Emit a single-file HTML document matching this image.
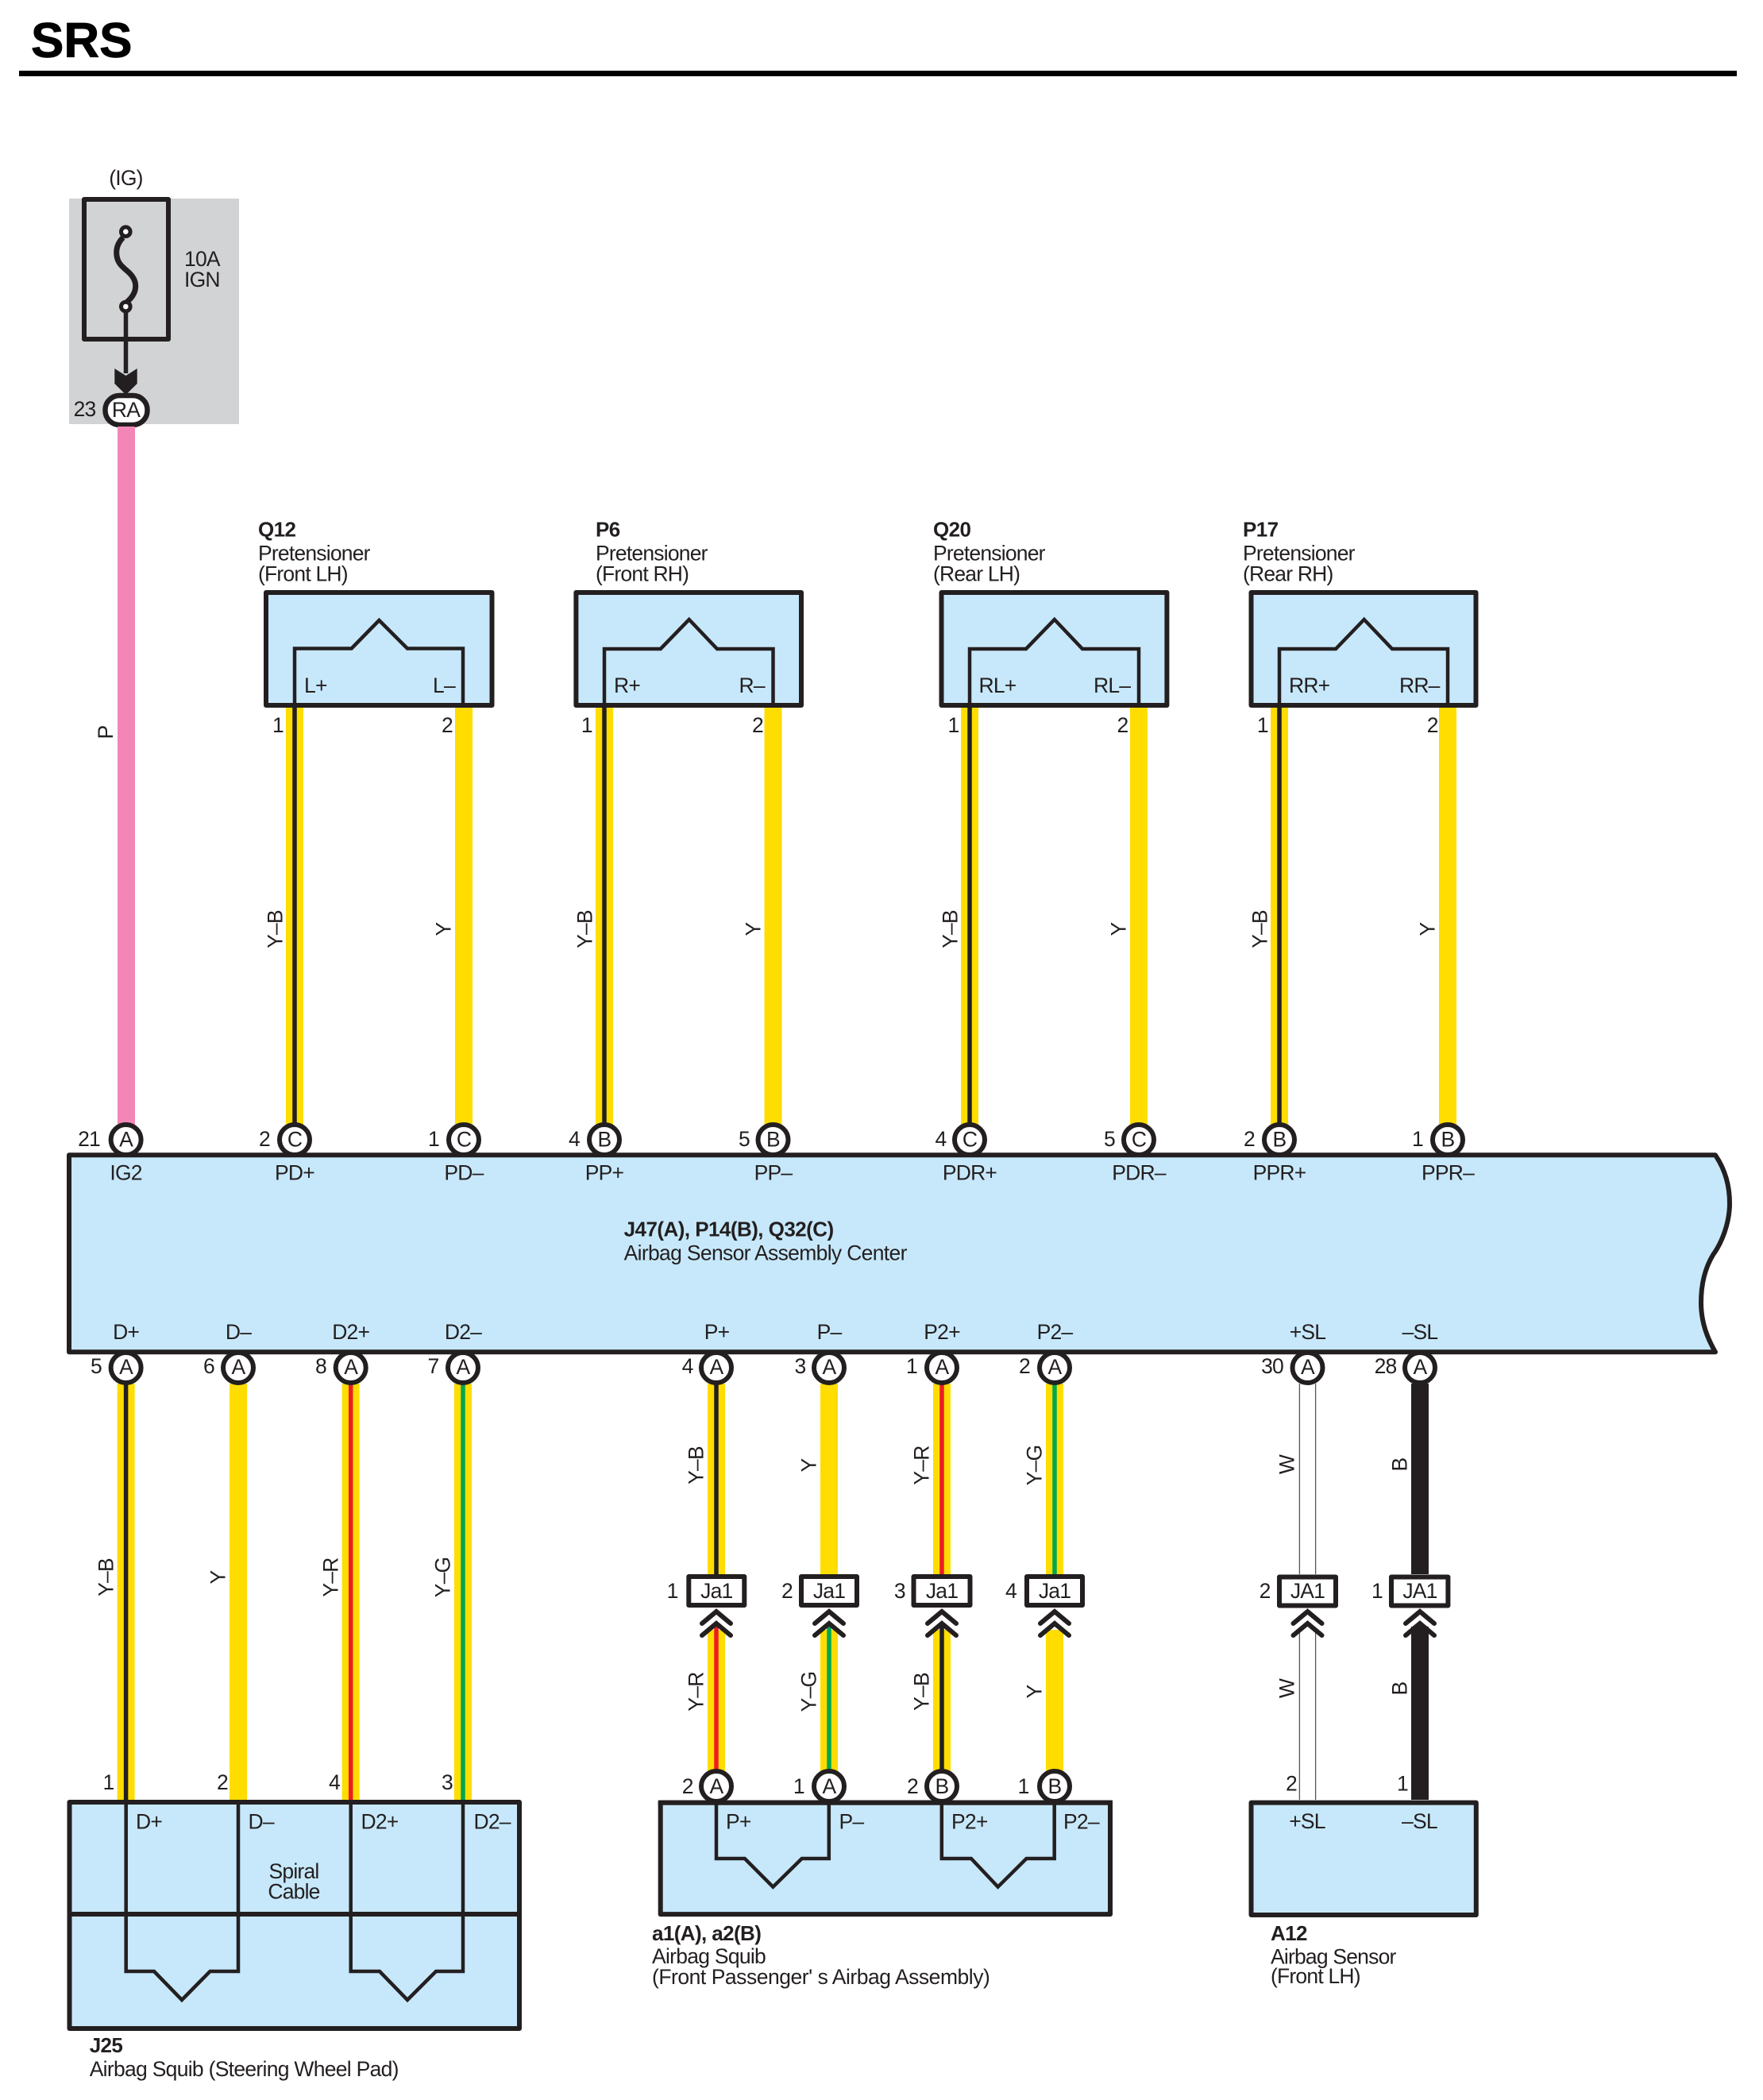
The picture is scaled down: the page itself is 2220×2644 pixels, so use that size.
<!DOCTYPE html>
<html><head><meta charset="utf-8"><title>SRS</title>
<style>
html,body{margin:0;padding:0;background:#fff}
svg{display:block}
text{font-family:"Liberation Sans",sans-serif;font-size:26.5px;letter-spacing:-.8px;fill:#231f20}
.b{font-weight:700;font-size:26px;letter-spacing:-.6px}
.e{text-anchor:end}
.m{text-anchor:middle}
.box{fill:#c7e8fa;stroke:#231f20;stroke-width:6;stroke-linejoin:round}
.in{fill:none;stroke:#231f20;stroke-width:4.5;stroke-linejoin:miter}
.c{fill:#fff;stroke:#231f20;stroke-width:6}
.y{stroke:#ffdd00;stroke-width:22;fill:none}
.k{stroke:#231f20;stroke-width:5.5;fill:none}
.bk{stroke:#231f20;stroke-width:22;fill:none}
.r{stroke:#ed1c24;stroke-width:5.5;fill:none}
.g{stroke:#00a651;stroke-width:5.5;fill:none}
.w{stroke:#555;stroke-width:1.3;fill:none}
.chev{fill:none;stroke:#231f20;stroke-width:6;stroke-linecap:round;stroke-linejoin:miter}
.conn{fill:#fff;stroke:#231f20;stroke-width:6;stroke-linejoin:round}
</style></head>
<body>
<svg width="2220" height="2644" viewBox="0 0 2220 2644" xmlns="http://www.w3.org/2000/svg">
<defs>
<g id="ch"><path class="chev" d="M-18 17L0 2L18 17"/><path class="chev" d="M-18 32L0 17L18 32"/></g>
</defs>
<rect width="2220" height="2644" fill="#fff"/>

<text x="39" y="72" class="b" style="font-size:62px;letter-spacing:0;fill:#000;stroke:#000;stroke-width:.8">SRS</text>
<rect x="24" y="89" width="2163" height="7" fill="#000"/>

<!-- fuse -->
<rect x="87" y="250" width="214" height="284" fill="#d1d3d4"/>
<text x="158.5" y="233" class="m">(IG)</text>
<rect x="106" y="251" width="106" height="176" fill="none" stroke="#231f20" stroke-width="6" stroke-linejoin="round"/>
<path d="M155 299C150 304 146.7 310 146.7 318C146.7 330 153 335 160 341C166 346 170.7 352 170.7 360C170.7 369 166 375 160 380" fill="none" stroke="#231f20" stroke-width="7"/>
<circle cx="158.3" cy="291.7" r="5.8" fill="#fff" stroke="#231f20" stroke-width="5"/>
<circle cx="158.3" cy="386" r="5.8" fill="#fff" stroke="#231f20" stroke-width="5"/>
<path d="M158.5 392V470" stroke="#231f20" stroke-width="5.5" fill="none"/>
<path d="M144.3 464L158.5 473L172.7 464V483L158.5 497L144.3 483Z" fill="#231f20"/>
<text x="232" y="335">10A</text>
<text x="232" y="361">IGN</text>
<text x="120.5" y="524" class="e">23</text>
<rect x="132.5" y="498" width="53" height="37" rx="18" ry="18" class="c" style="stroke-width:6.5"/>
<text x="158.5" y="525" class="m">RA</text>

<!-- wires upper -->
<path class="y" d="M159 537V1416" style="stroke:#f287b7"/>
<path class="y" d="M371 889V1416M584 889V1416M761 889V1416M973.5 889V1416M1221 889V1416M1434 889V1416M1611 889V1416M1823 889V1416"/>
<path class="k" d="M371 889V1416M761 889V1416M1221 889V1416M1611 889V1416"/>

<!-- wires lower -->
<path class="y" d="M158.6 1742V2266M300 1742V2266M441.7 1742V2266M583 1742V2266"/>
<path class="k" d="M158.6 1742V2266"/>
<path class="r" d="M441.7 1742V2266"/>
<path class="g" d="M583 1742V2266"/>

<path class="y" d="M902 1742V1982M1044 1742V1982M1186 1742V1982M1328 1742V1982M902 2052V2232M1044 2052V2232M1186 2052V2232M1328 2052V2232"/>
<path class="k" d="M902 1742V1982M1186 2047V2232"/>
<path class="r" d="M1186 1742V1982M902 2047V2232"/>
<path class="g" d="M1328 1742V1982M1044 2047V2232"/>

<path class="w" d="M1636.4 1742V1982M1656.6 1742V1982M1636.4 2052V2266M1656.6 2052V2266"/>
<path class="bk" d="M1788 1742V1982M1788 2048V2266"/>

<!-- pretensioners -->
<rect x="335" y="746" width="284.5" height="142" class="box"/>
<path class="in" d="M371 888V816.5H442.6L477.4 781L513 816.5H583V888"/>
<rect x="725.4" y="746" width="283.6" height="142" class="box"/>
<path class="in" d="M761 888V817H831.8L867.7 780L903 817H973.5V888"/>
<rect x="1185.5" y="746" width="283.9" height="142" class="box"/>
<path class="in" d="M1221 888V817H1292L1327.8 780L1363 817H1434V888"/>
<rect x="1575.5" y="746" width="283" height="142" class="box"/>
<path class="in" d="M1611 888V817H1682L1717.7 780L1753 817H1823V888"/>

<text x="325" y="675.5" class="b">Q12</text><text x="325" y="705.5">Pretensioner</text><text x="325" y="731.5">(Front LH)</text>
<text x="750" y="675.5" class="b">P6</text><text x="750" y="705.5">Pretensioner</text><text x="750" y="731.5">(Front RH)</text>
<text x="1175" y="675.5" class="b">Q20</text><text x="1175" y="705.5">Pretensioner</text><text x="1175" y="731.5">(Rear LH)</text>
<text x="1565" y="675.5" class="b">P17</text><text x="1565" y="705.5">Pretensioner</text><text x="1565" y="731.5">(Rear RH)</text>

<text x="383" y="872">L+</text><text x="545" y="872">L–</text>
<text x="773" y="872">R+</text><text x="930.5" y="872">R–</text>
<text x="1232.5" y="872">RL+</text><text x="1377" y="872">RL–</text>
<text x="1623" y="872">RR+</text><text x="1762" y="872">RR–</text>

<text x="357" y="922" class="e">1</text><text x="570" y="922" class="e">2</text>
<text x="745.8" y="922" class="e">1</text><text x="961" y="922" class="e">2</text>
<text x="1207.5" y="922" class="e">1</text><text x="1420.4" y="922" class="e">2</text>
<text x="1596.8" y="922" class="e">1</text><text x="1810.7" y="922" class="e">2</text>

<!-- rotated wire labels upper -->
<text class="m" transform="translate(142 922) rotate(-90)">P</text>
<text class="m" transform="translate(355.5 1170) rotate(-90)">Y–B</text>
<text class="m" transform="translate(567.5 1170) rotate(-90)">Y</text>
<text class="m" transform="translate(745.5 1170) rotate(-90)">Y–B</text>
<text class="m" transform="translate(957.5 1170) rotate(-90)">Y</text>
<text class="m" transform="translate(1205.5 1170) rotate(-90)">Y–B</text>
<text class="m" transform="translate(1417.5 1170) rotate(-90)">Y</text>
<text class="m" transform="translate(1595.5 1170) rotate(-90)">Y–B</text>
<text class="m" transform="translate(1806.5 1170) rotate(-90)">Y</text>

<!-- rotated wire labels lower -->
<text class="m" transform="translate(142.5 1986) rotate(-90)">Y–B</text>
<text class="m" transform="translate(283.5 1986) rotate(-90)">Y</text>
<text class="m" transform="translate(425.5 1986) rotate(-90)">Y–R</text>
<text class="m" transform="translate(566.5 1986) rotate(-90)">Y–G</text>
<text class="m" transform="translate(885.5 1845) rotate(-90)">Y–B</text>
<text class="m" transform="translate(1027.5 1845) rotate(-90)">Y</text>
<text class="m" transform="translate(1169.5 1845) rotate(-90)">Y–R</text>
<text class="m" transform="translate(1311.5 1845) rotate(-90)">Y–G</text>
<text class="m" transform="translate(885.5 2130) rotate(-90)">Y–R</text>
<text class="m" transform="translate(1027.5 2130) rotate(-90)">Y–G</text>
<text class="m" transform="translate(1169.5 2130) rotate(-90)">Y–B</text>
<text class="m" transform="translate(1311.5 2130) rotate(-90)">Y</text>
<text class="m" transform="translate(1629.5 1844) rotate(-90)">W</text>
<text class="m" transform="translate(1771.5 1844) rotate(-90)">B</text>
<text class="m" transform="translate(1629.5 2126) rotate(-90)">W</text>
<text class="m" transform="translate(1771.5 2126) rotate(-90)">B</text>

<!-- circles top -->
<circle class="c" cx="158.6" cy="1435" r="19"/><text x="158.6" y="1443.5" class="m">A</text><text x="126" y="1443" class="e">21</text>
<circle class="c" cx="371" cy="1435" r="19"/><text x="371" y="1443.5" class="m">C</text><text x="340" y="1443" class="e">2</text>
<circle class="c" cx="584" cy="1435" r="19"/><text x="584" y="1443.5" class="m">C</text><text x="553" y="1443" class="e">1</text>
<circle class="c" cx="761" cy="1435" r="19"/><text x="761" y="1443.5" class="m">B</text><text x="730" y="1443" class="e">4</text>
<circle class="c" cx="973.5" cy="1435" r="19"/><text x="973.5" y="1443.5" class="m">B</text><text x="944" y="1443" class="e">5</text>
<circle class="c" cx="1221" cy="1435" r="19"/><text x="1221" y="1443.5" class="m">C</text><text x="1191.5" y="1443" class="e">4</text>
<circle class="c" cx="1434" cy="1435" r="19"/><text x="1434" y="1443.5" class="m">C</text><text x="1404" y="1443" class="e">5</text>
<circle class="c" cx="1611" cy="1435" r="19"/><text x="1611" y="1443.5" class="m">B</text><text x="1580" y="1443" class="e">2</text>
<circle class="c" cx="1823" cy="1435" r="19"/><text x="1823" y="1443.5" class="m">B</text><text x="1792" y="1443" class="e">1</text>

<!-- circles bottom -->
<circle class="c" cx="158.6" cy="1722" r="19"/><text x="158.6" y="1730" class="m">A</text><text x="128" y="1729" class="e">5</text>
<circle class="c" cx="300" cy="1722" r="19"/><text x="300" y="1730" class="m">A</text><text x="270" y="1729" class="e">6</text>
<circle class="c" cx="441.7" cy="1722" r="19"/><text x="441.7" y="1730" class="m">A</text><text x="411" y="1729" class="e">8</text>
<circle class="c" cx="583" cy="1722" r="19"/><text x="583" y="1730" class="m">A</text><text x="552.4" y="1729" class="e">7</text>
<circle class="c" cx="902" cy="1722" r="19"/><text x="902" y="1730" class="m">A</text><text x="872.6" y="1729" class="e">4</text>
<circle class="c" cx="1044" cy="1722" r="19"/><text x="1044" y="1730" class="m">A</text><text x="1014.4" y="1729" class="e">3</text>
<circle class="c" cx="1186" cy="1722" r="19"/><text x="1186" y="1730" class="m">A</text><text x="1155" y="1729" class="e">1</text>
<circle class="c" cx="1328" cy="1722" r="19"/><text x="1328" y="1730" class="m">A</text><text x="1297" y="1729" class="e">2</text>
<circle class="c" cx="1646.5" cy="1722" r="19"/><text x="1646.5" y="1730" class="m">A</text><text x="1616" y="1729" class="e">30</text>
<circle class="c" cx="1788" cy="1722" r="19"/><text x="1788" y="1730" class="m">A</text><text x="1758.5" y="1729" class="e">28</text>

<!-- main box -->
<path class="box" d="M87 1454.3H2160C2172 1472 2178 1492 2178 1515C2178 1540 2168 1565 2157 1580C2148 1595 2142 1615 2142 1640C2142 1665 2150 1685 2160 1702.3H87Z"/>
<text x="158.6" y="1485.5" class="m">IG2</text>
<text x="371" y="1485.5" class="m">PD+</text>
<text x="584" y="1485.5" class="m">PD–</text>
<text x="761" y="1485.5" class="m">PP+</text>
<text x="973.5" y="1485.5" class="m">PP–</text>
<text x="1221" y="1485.5" class="m">PDR+</text>
<text x="1434" y="1485.5" class="m">PDR–</text>
<text x="1611" y="1485.5" class="m">PPR+</text>
<text x="1823" y="1485.5" class="m">PPR–</text>
<text x="785.6" y="1556.7" class="b" textLength="264" lengthAdjust="spacing">J47(A), P14(B), Q32(C)</text>
<text x="785.6" y="1586.7" textLength="356" lengthAdjust="spacing">Airbag Sensor Assembly Center</text>
<text x="158.6" y="1686" class="m">D+</text>
<text x="300" y="1686" class="m">D–</text>
<text x="441.7" y="1686" class="m">D2+</text>
<text x="583" y="1686" class="m">D2–</text>
<text x="902.5" y="1686" class="m">P+</text>
<text x="1044" y="1686" class="m">P–</text>
<text x="1186" y="1686" class="m">P2+</text>
<text x="1328" y="1686" class="m">P2–</text>
<text x="1646.5" y="1686" class="m">+SL</text>
<text x="1788" y="1686" class="m">–SL</text>

<!-- connectors -->
<rect class="conn" x="867.3" y="1985" width="70" height="36"/><text x="902.3" y="2012" class="m">Ja1</text><text x="853.6" y="2012" class="e">1</text>
<rect class="conn" x="1009" y="1985" width="70" height="36"/><text x="1044" y="2012" class="m">Ja1</text><text x="998" y="2012" class="e">2</text>
<rect class="conn" x="1150.5" y="1985" width="71" height="36"/><text x="1186" y="2012" class="m">Ja1</text><text x="1139.8" y="2012" class="e">3</text>
<rect class="conn" x="1293" y="1985" width="70" height="36"/><text x="1328" y="2012" class="m">Ja1</text><text x="1280" y="2012" class="e">4</text>
<rect class="conn" x="1611" y="1985.5" width="71" height="36"/><text x="1646.5" y="2012" class="m">JA1</text><text x="1599.6" y="2012" class="e">2</text>
<rect class="conn" x="1752" y="1985.5" width="71.4" height="36"/><text x="1788" y="2012" class="m">JA1</text><text x="1741" y="2012" class="e">1</text>
<use href="#ch" x="902" y="2027"/>
<use href="#ch" x="1044" y="2027"/>
<use href="#ch" x="1186" y="2027"/>
<use href="#ch" x="1328" y="2027"/>
<use href="#ch" x="1646.5" y="2027"/>
<use href="#ch" x="1788" y="2027"/>

<!-- J25 -->
<text x="143.5" y="2253" class="e">1</text>
<text x="287" y="2253" class="e">2</text>
<text x="428" y="2253" class="e">4</text>
<text x="570" y="2253" class="e">3</text>
<rect class="box" x="87.5" y="2269" width="566.5" height="285"/>
<path d="M87 2410H654" stroke="#231f20" stroke-width="6" fill="none"/>
<path class="in" d="M158.7 2269V2482H194L229 2518L264.5 2482H300V2269"/>
<path class="in" d="M441.7 2269V2482H478L513 2518L549 2482H583V2269"/>
<text x="171" y="2302.7">D+</text>
<text x="312.5" y="2302.7">D–</text>
<text x="454.5" y="2302.7">D2+</text>
<text x="596.5" y="2302.7">D2–</text>
<text x="370" y="2365" class="m">Spiral</text>
<text x="370" y="2390.7" class="m">Cable</text>
<text x="112.7" y="2584" class="b">J25</text>
<text x="112.7" y="2614" textLength="389" lengthAdjust="spacing">Airbag Squib (Steering Wheel Pad)</text>

<!-- a1 a2 -->
<rect class="box" x="831.7" y="2269.6" width="566.3" height="140.5"/>
<circle class="c" cx="902" cy="2249" r="19"/><text x="902" y="2258" class="m">A</text><text x="872.7" y="2258" class="e">2</text>
<circle class="c" cx="1044" cy="2249" r="19"/><text x="1044" y="2258" class="m">A</text><text x="1012.8" y="2258" class="e">1</text>
<circle class="c" cx="1186" cy="2249" r="19"/><text x="1186" y="2258" class="m">B</text><text x="1156" y="2258" class="e">2</text>
<circle class="c" cx="1328" cy="2249" r="19"/><text x="1328" y="2258" class="m">B</text><text x="1295.6" y="2258" class="e">1</text>
<path d="M828.7 2269.6H1401" stroke="#231f20" stroke-width="6" fill="none"/>
<path class="in" d="M902 2269V2340H937.8L973.4 2375.7L1009.7 2340H1043.8V2269"/>
<path class="in" d="M1185.8 2269V2340H1222.9L1256.6 2375.7L1292.5 2340H1327.7V2269"/>
<text x="914" y="2302.6">P+</text>
<text x="1056.5" y="2302.6">P–</text>
<text x="1198" y="2302.6">P2+</text>
<text x="1339" y="2302.6">P2–</text>
<text x="821" y="2443" class="b">a1(A), a2(B)</text>
<text x="821" y="2472" textLength="143" lengthAdjust="spacing">Airbag Squib</text>
<text x="821" y="2497.8" textLength="425" lengthAdjust="spacing">(Front Passenger'  s Airbag Assembly)</text>

<!-- A12 -->
<text x="1633" y="2254.7" class="e">2</text>
<text x="1773" y="2254.7" class="e">1</text>
<rect class="box" x="1575.5" y="2269.6" width="283.3" height="141.4"/>
<text x="1646" y="2301.8" class="m">+SL</text>
<text x="1787.4" y="2301.8" class="m">–SL</text>
<text x="1600" y="2443" class="b">A12</text>
<text x="1600" y="2472.5">Airbag Sensor</text>
<text x="1600" y="2497">(Front LH)</text>
</svg>
</body></html>
